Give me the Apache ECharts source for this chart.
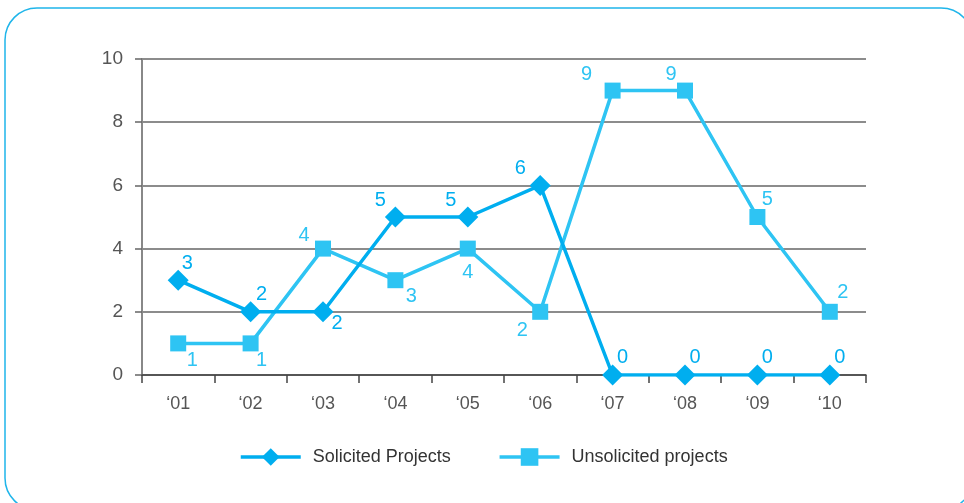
<!DOCTYPE html>
<html>
<head>
<meta charset="utf-8">
<script src="https://cdn.jsdelivr.net/npm/echarts@6/dist/echarts.min.js"></script>
<style>
  html, body { margin: 0; padding: 0; background: #ffffff; }
  #chart { width: 964px; height: 503px; }
</style>
</head>
<body>
<div id="chart"></div>
<script>
// Project counts per year
const years = ['\u201801', '\u201802', '\u201803', '\u201804', '\u201805', '\u201806', '\u201807', '\u201808', '\u201809', '\u201810'];
const solicited = [3, 2, 2, 5, 5, 6, 0, 0, 0, 0];
const unsolicited = [1, 1, 4, 3, 4, 2, 9, 9, 5, 2];
const yTicks = [0, 2, 4, 6, 8, 10];

// Where each value label sits relative to its marker (pixels)
const solicitedLabelShift = [[9, -17], [11, -17], [14, 12], [-15, -17], [-17, -17], [-20, -17], [10, -18], [10, -18], [10, -18], [10, -18]];
const unsolicitedLabelShift = [[14, 17], [11, 17], [-19, -13], [16, 16], [0, 24], [-18, 19], [-26, -16], [-14, -16], [10, -18], [13, -19]];

const FONT = '"Liberation Sans", Arial, sans-serif';
const C_SOL = '#00aeef';
const C_UNS = '#2ec4f3';

function withLabels(values, shifts) {
  return values.map((v, i) => ({
    value: v,
    label: { offset: shifts[i] }
  }));
}

const chart = echarts.init(document.getElementById('chart'), null, { renderer: 'canvas' });

chart.setOption({
  animation: false,
  backgroundColor: '#ffffff',
  graphic: [{
    type: 'rect',
    shape: { x: 5, y: 8, width: 968, height: 502, r: 32 },
    style: { fill: 'none', stroke: '#1fb5ea', lineWidth: 1.5 },
    z: -1,
    silent: true
  }],
  grid: { left: 142, right: 98, top: 59, bottom: 128 },
  legend: {
    data: ['Solicited Projects', 'Unsolicited projects'],
    left: 239,
    top: 448,
    padding: 0,
    itemWidth: 60,
    itemHeight: 22,
    itemGap: 47,
    lineStyle: { width: 3.5 },
    textStyle: { fontFamily: FONT, fontSize: 18, color: '#333', padding: [0, 0, 0, 7] }
  },
  xAxis: {
    type: 'category',
    data: years,
    boundaryGap: true,
    axisLine: { lineStyle: { color: '#444', width: 1.5 } },
    axisTick: { show: true, length: 8, lineStyle: { color: '#444', width: 1.5 } },
    axisLabel: { fontFamily: FONT, fontSize: 18, color: '#555', margin: 20 },
    splitLine: { show: false }
  },
  yAxis: {
    type: 'value',
    min: yTicks[0],
    max: yTicks[yTicks.length - 1],
    interval: yTicks[1] - yTicks[0],
    axisLine: { show: true, lineStyle: { color: '#888', width: 2 } },
    axisTick: { show: true, length: 7, lineStyle: { color: '#666', width: 1.5 } },
    axisLabel: { fontFamily: FONT, fontSize: 19, color: '#555', margin: 19 },
    splitLine: { show: true, lineStyle: { color: '#666', width: 1.5 } }
  },
  series: [
    {
      name: 'Solicited Projects',
      type: 'line',
      data: withLabels(solicited, solicitedLabelShift),
      symbol: 'diamond',
      symbolSize: 21,
      lineStyle: { color: C_SOL, width: 3.5 },
      itemStyle: { color: C_SOL },
      label: {
        show: true, position: 'inside',
        fontFamily: FONT, fontSize: 20, color: C_SOL,
        align: 'center', verticalAlign: 'middle'
      },
      z: 3
    },
    {
      name: 'Unsolicited projects',
      type: 'line',
      data: withLabels(unsolicited, unsolicitedLabelShift),
      symbol: 'rect',
      symbolSize: 16,
      lineStyle: { color: C_UNS, width: 3.5 },
      itemStyle: { color: C_UNS },
      label: {
        show: true, position: 'inside',
        fontFamily: FONT, fontSize: 20, color: C_UNS,
        align: 'center', verticalAlign: 'middle'
      },
      z: 2
    }
  ]
});
</script>
</body>
</html>
